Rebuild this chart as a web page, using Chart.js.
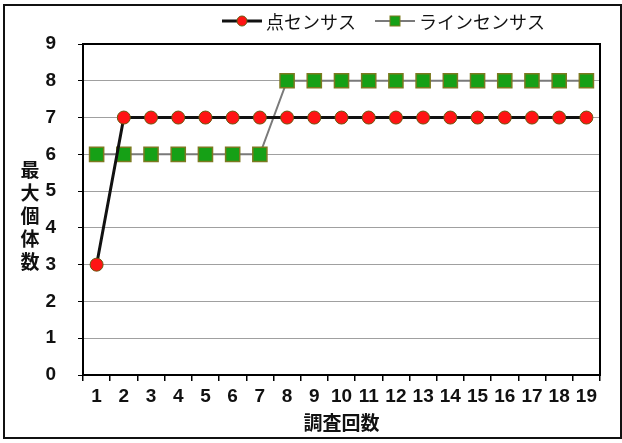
<!DOCTYPE html>
<html>
<head>
<meta charset="utf-8">
<script src="https://cdn.jsdelivr.net/npm/chart.js@4/dist/chart.umd.min.js"></script>
<style>
  html, body { margin: 0; padding: 0; background: #fff; }
  #wrap { width: 622px; height: 443px; position: relative; }
</style>
</head>
<body>
<div id="wrap"><canvas id="c" width="622" height="443"></canvas></div>
<script>
// Survey rounds 1..19
const categories = ['1','2','3','4','5','6','7','8','9','10','11','12','13','14','15','16','17','18','19'];
// Maximum counts per round
const pointCensus = [3,7,7,7,7,7,7,7,7,7,7,7,7,7,7,7,7,7,7];
const lineCensus  = [6,6,6,6,6,6,6,8,8,8,8,8,8,8,8,8,8,8,8];
const seriesNames = ['点センサス', 'ラインセンサス'];
const yTitle = '最大個体数';
const xTitle = '調査回数';

const tickFont = { family: '"Liberation Sans Narrow", "Liberation Sans", sans-serif', size: 19, weight: 'bold' };
const cjkBold = '"Noto Sans CJK JP", sans-serif';

// Outer frame, plot frame, vertical axis title and legend
const decor = {
  id: 'decor',
  beforeDraw(chart) {
    const ctx = chart.ctx;
    ctx.save();
    ctx.fillStyle = '#fff';
    ctx.fillRect(0, 0, chart.width, chart.height);
    ctx.strokeStyle = '#111';
    ctx.lineWidth = 2;
    ctx.strokeRect(4, 5, 617, 433);
    ctx.restore();
  },
  beforeDatasetsDraw(chart) {
    const { ctx, chartArea: a } = chart;
    ctx.save();
    ctx.strokeStyle = '#000';
    ctx.lineWidth = 2;
    ctx.strokeRect(a.left, a.top, a.right - a.left, a.bottom - a.top);
    ctx.restore();
  },
  afterDraw(chart) {
    const ctx = chart.ctx;
    ctx.save();
    // stacked vertical title
    ctx.fillStyle = '#111';
    ctx.font = 'bold 19px ' + cjkBold;
    ctx.textAlign = 'center';
    ctx.textBaseline = 'middle';
    const chars = Array.from(yTitle);
    const step = 23;
    const y0 = 170;
    chars.forEach((ch, i) => ctx.fillText(ch, 30, y0 + i * step));

    // legend
    const ly = 21;
    const items = [
      { x0: 222, ds: chart.data.datasets[0] },
      { x0: 375, ds: chart.data.datasets[1] }
    ];
    ctx.font = '18px ' + cjkBold;
    ctx.textAlign = 'left';
    items.forEach(it => {
      const ds = it.ds;
      ctx.strokeStyle = ds.borderColor;
      ctx.lineWidth = ds.borderWidth;
      ctx.beginPath();
      ctx.moveTo(it.x0, ly);
      ctx.lineTo(it.x0 + 40, ly);
      ctx.stroke();
      ctx.fillStyle = ds.pointBackgroundColor;
      ctx.strokeStyle = ds.pointBorderColor;
      ctx.lineWidth = 1;
      const cx = it.x0 + 20;
      if (ds.pointStyle === 'rect') {
        ctx.fillRect(cx - 5, ly - 5, 10, 10);
        ctx.strokeRect(cx - 5, ly - 5, 10, 10);
      } else {
        ctx.beginPath();
        ctx.arc(cx, ly, 5, 0, Math.PI * 2);
        ctx.fill();
        ctx.stroke();
      }
      ctx.fillStyle = '#111';
      ctx.fillText(ds.label, it.x0 + 44, ly + 1);
    });
    ctx.restore();
  }
};

new Chart(document.getElementById('c'), {
  type: 'line',
  data: {
    labels: categories,
    datasets: [
      {
        label: seriesNames[0],
        data: pointCensus,
        borderColor: '#111',
        borderWidth: 3,
        pointStyle: 'circle',
        pointRadius: 6.5,
        pointBackgroundColor: '#ff1414',
        pointBorderColor: '#6a5a10',
        pointBorderWidth: 1,
        tension: 0,
        order: 1
      },
      {
        label: seriesNames[1],
        data: lineCensus,
        borderColor: '#7a7a7a',
        borderWidth: 2,
        pointStyle: 'rect',
        pointRadius: 10,
        pointBackgroundColor: '#16a016',
        pointBorderColor: '#7c7a20',
        pointBorderWidth: 1.5,
        tension: 0,
        order: 2
      }
    ]
  },
  options: {
    responsive: false,
    animation: false,
    events: [],
    layout: { padding: { top: 44, right: 22, bottom: 9, left: 0 } },
    plugins: {
      legend: { display: false },
      tooltip: { enabled: false }
    },
    scales: {
      x: {
        type: 'category',
        offset: true,
        grid: { display: true, drawOnChartArea: false, drawTicks: true, tickLength: 6, color: '#000', lineWidth: 1.5, offset: true },
        border: { display: true, color: '#000', width: 2 },
        ticks: { color: '#111', font: tickFont, padding: 4, maxRotation: 0, autoSkip: false },
        title: { display: true, text: xTitle, color: '#111', font: { family: cjkBold, size: 19, weight: 'bold' }, padding: 0 },
        afterFit(scale) { scale.height = 59; }
      },
      y: {
        min: 0,
        max: 9,
        grid: { color: '#a0a0a0', lineWidth: 1, drawTicks: true, tickLength: 5, tickColor: '#000' },
        border: { display: true, color: '#000', width: 2 },
        ticks: { stepSize: 1, color: '#111', font: tickFont, padding: 22 },
        afterFit(scale) { scale.width = 83; }
      }
    }
  },
  plugins: [decor]
});
</script>
</body>
</html>
